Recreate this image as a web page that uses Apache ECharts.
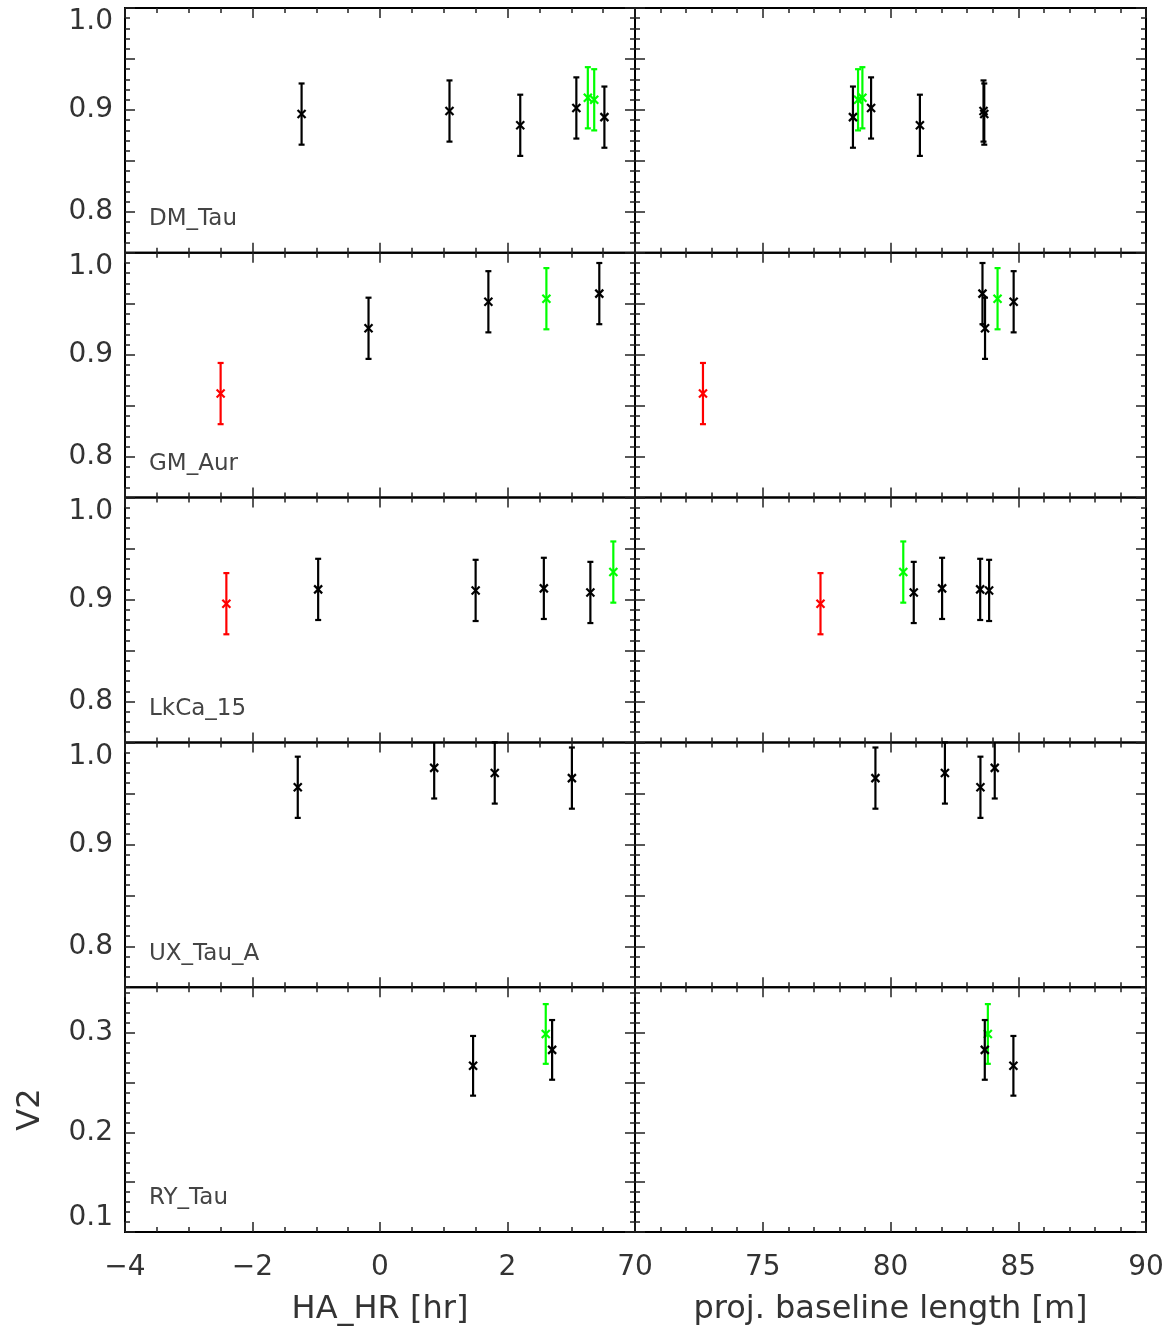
<!DOCTYPE html>
<html>
<head>
<meta charset="utf-8">
<script src="https://cdn.jsdelivr.net/npm/echarts@6/dist/echarts.min.js"></script>
<style>
  html, body { margin: 0; padding: 0; background: #fff; }
  #chart { width: 1176px; height: 1333px; }
</style>
</head>
<body>
<div id="chart"></div>
<script>
// star names, one row each
const starNames = ["DM_Tau", "GM_Aur", "LkCa_15", "UX_Tau_A", "RY_Tau"];

// DM_Tau
const dmHa = [-1.23, 1.09, 2.2, 3.08, 3.26, 3.36, 3.52];
const dmBl = [83.67, 83.64, 81.15, 79.24, 78.9, 78.73, 78.53];
const dmV2 = [0.896, 0.899, 0.885, 0.902, 0.912, 0.91, 0.893];
const dmErr = [0.03, 0.03, 0.03, 0.03, 0.03, 0.03, 0.03];
const dmCol = ["k", "k", "k", "k", "g", "g", "k"];

// GM_Aur
const gmHa = [-2.5, -0.18, 1.7, 2.61, 3.44];
const gmBl = [72.66, 83.7, 84.82, 84.19, 83.6];
const gmV2 = [0.862, 0.926, 0.952, 0.955, 0.96];
const gmErr = [0.03, 0.03, 0.03, 0.03, 0.03];
const gmCol = ["r", "k", "k", "g", "k"];

// LkCa_15
const lkHa = [-2.41, -0.97, 1.5, 2.57, 3.3, 3.66];
const lkBl = [77.26, 83.51, 83.86, 82.02, 80.91, 80.5];
const lkV2 = [0.896, 0.91, 0.909, 0.911, 0.907, 0.927];
const lkErr = [0.03, 0.03, 0.03, 0.03, 0.03, 0.03];
const lkCol = ["r", "k", "k", "k", "k", "g"];

// UX_Tau_A
const uxHa = [-1.29, 0.85, 1.8, 3.01];
const uxBl = [83.52, 84.08, 82.13, 79.41];
const uxV2 = [0.956, 0.975, 0.97, 0.965];
const uxErr = [0.03, 0.03, 0.03, 0.03];
const uxCol = ["k", "k", "k", "k"];

// RY_Tau
const ryHa = [1.46, 2.6, 2.7];
const ryBl = [84.81, 83.81, 83.69];
const ryV2 = [0.267, 0.299, 0.283];
const ryErr = [0.03, 0.03, 0.03];
const ryCol = ["k", "g", "k"];

// axes
const haRange = [-4, 4];
const blRange = [70, 90];
const v2Range = [0.76, 1.0];
const v2Labels = [0.8, 0.9, 1.0];
const v2Major = [0.8, 0.85, 0.9, 0.95, 1.0];
const ryRange = [0.1, 0.346];
const ryLabels = [0.1, 0.2, 0.3];
const ryMajor = [0.1, 0.15, 0.2, 0.25, 0.3];

const colorMap = { k: "#000000", r: "#ff0000", g: "#00ff00" };
const FONT = "DejaVu Sans";
const TXT = "#333";

const rows = [
  { ha: dmHa, bl: dmBl, v2: dmV2, err: dmErr, col: dmCol, range: v2Range, labels: v2Labels, major: v2Major },
  { ha: gmHa, bl: gmBl, v2: gmV2, err: gmErr, col: gmCol, range: v2Range, labels: v2Labels, major: v2Major },
  { ha: lkHa, bl: lkBl, v2: lkV2, err: lkErr, col: lkCol, range: v2Range, labels: v2Labels, major: v2Major },
  { ha: uxHa, bl: uxBl, v2: uxV2, err: uxErr, col: uxCol, range: v2Range, labels: v2Labels, major: v2Major },
  { ha: ryHa, bl: ryBl, v2: ryV2, err: ryErr, col: ryCol, range: ryRange, labels: ryLabels, major: ryMajor },
];

function minorTicks(range) {
  const out = [];
  for (let i = Math.ceil(range[0] * 100 - 1e-6); i <= Math.floor(range[1] * 100 + 1e-6); i++) {
    out.push(i / 100);
  }
  return out;
}

function fmtX(v) {
  return v < 0 ? "\u2212" + Math.abs(v) : String(v);
}

// error bar + cross, clipped at the frame like the original
function makeRender(cols) {
  return function (params, api) {
    const x = api.value(0), v = api.value(1), e = api.value(2);
    const cs = params.coordSys;
    const p = api.coord([x, v]);
    const hi = api.coord([x, v + e]);
    const lo = api.coord([x, v - e]);
    const top = Math.max(hi[1], cs.y);
    const bot = Math.min(lo[1], cs.y + cs.height);
    const style = { stroke: colorMap[cols[params.dataIndex]], lineWidth: 2.2 };
    const kids = [
      { type: "line", shape: { x1: p[0], y1: top, x2: p[0], y2: bot }, style: style },
      { type: "line", shape: { x1: p[0] - 4, y1: p[1] - 4, x2: p[0] + 4, y2: p[1] + 4 }, style: style },
      { type: "line", shape: { x1: p[0] - 4, y1: p[1] + 4, x2: p[0] + 4, y2: p[1] - 4 }, style: style },
    ];
    if (hi[1] >= cs.y) kids.push({ type: "line", shape: { x1: p[0] - 3, y1: hi[1], x2: p[0] + 3, y2: hi[1] }, style: style });
    if (lo[1] <= cs.y + cs.height) kids.push({ type: "line", shape: { x1: p[0] - 3, y1: lo[1], x2: p[0] + 3, y2: lo[1] }, style: style });
    return { type: "group", children: kids };
  };
}

const grid = [], xAxis = [], yAxis = [], series = [], graphic = [];
const ROW_TOP = 8, ROW_H = 244.8;
const tickStyle = { color: "#222", width: 1.5 };

rows.forEach((row, r) => {
  const last = r === rows.length - 1;
  [0, 1].forEach((c) => {
    const g = grid.length;
    grid.push({
      left: c === 0 ? 125 : 635,
      width: c === 0 ? 510 : 511,
      top: ROW_TOP + r * ROW_H,
      height: ROW_H,
      show: true,
      borderColor: "#000",
      borderWidth: 2,
      backgroundColor: "transparent",
    });
    const xr = c === 0 ? haRange : blRange;
    ["bottom", "top"].forEach((pos) => {
      xAxis.push({
        type: "value",
        gridIndex: g,
        position: pos,
        min: xr[0],
        max: xr[1],
        interval: c === 0 ? 2 : 5,
        axisLine: { show: false, onZero: false },
        splitLine: { show: false },
        axisTick: { show: true, inside: true, length: 10, lineStyle: tickStyle },
        minorTick: { show: true, splitNumber: c === 0 ? 4 : 5, length: 5, lineStyle: tickStyle },
        axisLabel: {
          show: last && pos === "bottom",
          margin: 22,
          fontFamily: FONT,
          fontSize: 28,
          color: TXT,
          formatter: (v) => (c === 0 && v === xr[1] ? "" : fmtX(v)),
        },
        name: last && pos === "bottom" ? (c === 0 ? "HA_HR [hr]" : "proj. baseline length [m]") : "",
        nameLocation: "middle",
        nameGap: 62,
        nameTextStyle: { fontFamily: FONT, fontSize: 32, color: TXT },
      });
    });
    const minors = minorTicks(row.range);
    ["left", "right"].forEach((pos) => {
      const showLab = c === 0 && pos === "left";
      yAxis.push({
        type: "value",
        gridIndex: g,
        position: pos,
        min: row.range[0],
        max: row.range[1],
        axisLine: { show: false, onZero: false },
        splitLine: { show: false },
        axisTick: { show: true, inside: true, length: 10, lineStyle: tickStyle, customValues: row.major },
        axisLabel: {
          show: showLab,
          customValues: row.labels,
          margin: 12,
          fontFamily: FONT,
          fontSize: 28,
          color: TXT,
          verticalAlignMaxLabel: last ? null : "top",
          verticalAlignMinLabel: last ? "bottom" : null,
          formatter: (v) => v.toFixed(1),
        },
        name: showLab && last ? "V2" : "",
        nameLocation: "middle",
        nameRotate: 90,
        nameGap: 78,
        nameTextStyle: { fontFamily: FONT, fontSize: 32, color: TXT },
      });
      yAxis.push({
        type: "value",
        gridIndex: g,
        position: pos,
        min: row.range[0],
        max: row.range[1],
        axisLine: { show: false, onZero: false },
        splitLine: { show: false },
        axisLabel: { show: false, customValues: row.labels },
        axisTick: { show: true, inside: true, length: 5, lineStyle: tickStyle, customValues: minors },
      });
    });

    const xs = c === 0 ? row.ha : row.bl;
    series.push({
      type: "custom",
      xAxisIndex: g * 2,
      yAxisIndex: g * 4,
      renderItem: makeRender(row.col),
      data: xs.map((x, i) => [x, row.v2[i], row.err[i]]),
      encode: { x: 0, y: 1 },
      z: 5,
      silent: true,
      animation: false,
    });
  });

  graphic.push({
    type: "text",
    left: 149,
    top: ROW_TOP + (r + 1) * ROW_H - 45,
    style: { text: starNames[r], font: "23px '" + FONT + "'", fill: "#444" },
  });
});

const chart = echarts.init(document.getElementById("chart"), null, { renderer: "canvas" });
chart.setOption({
  animation: false,
  backgroundColor: "#fff",
  grid: grid,
  xAxis: xAxis,
  yAxis: yAxis,
  series: series,
  graphic: graphic,
});
</script>
</body>
</html>
